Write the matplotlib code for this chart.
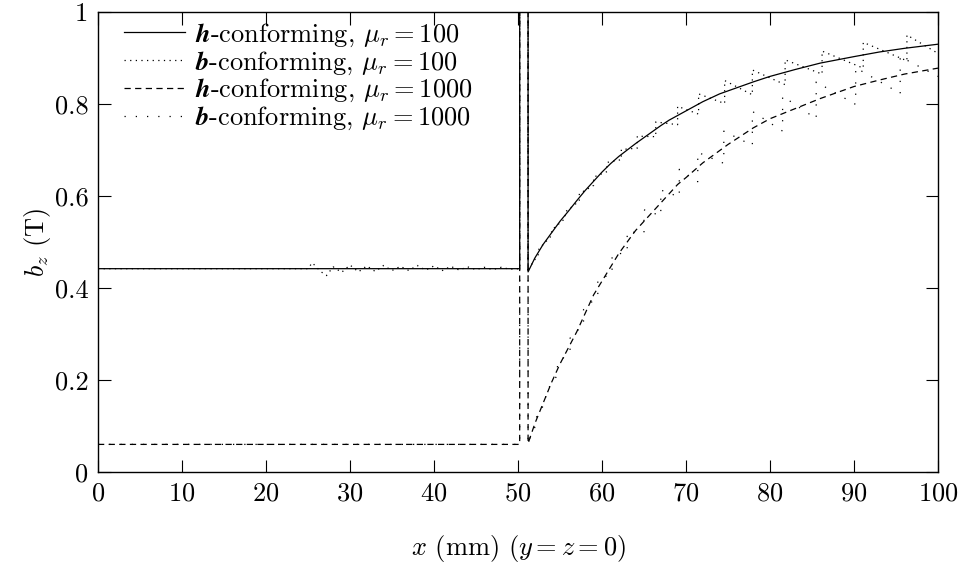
import matplotlib
matplotlib.use("Agg")
import matplotlib.pyplot as plt

plt.rcParams['font.family'] = ['cmr10', 'DejaVu Serif']
plt.rcParams['mathtext.fontset'] = 'cm'
plt.rcParams['axes.formatter.use_mathtext'] = True
plt.rcParams['font.size'] = 19

# x in mm, b_z in T
spike_x = [50.2, 50.2, 51.2, 51.2]

h100_left_y = 0.442
h100_spike_y = [0.442, 5, 5, 0.435]
h100_x = [52, 53, 54, 55, 56, 57, 58, 59, 60, 61, 62, 63, 64, 65, 66, 67, 68,
          70, 72, 74, 76, 78, 80, 83, 86, 90, 93, 96, 100]
h100_y = [0.465, 0.495, 0.52, 0.545, 0.567, 0.59, 0.612, 0.632, 0.652, 0.67,
          0.686, 0.70, 0.714, 0.727, 0.74, 0.753, 0.765, 0.785, 0.805, 0.822,
          0.835, 0.848, 0.86, 0.875, 0.889, 0.903, 0.913, 0.921, 0.93]

b100_left_x = [0, 25, 25.5, 26.5, 27.2, 28, 29, 30, 31, 32, 33, 34, 35, 36, 37,
               38, 39, 40, 41, 42, 43, 44, 45, 46, 47, 48, 49]
b100_left_y = [0.442, 0.442, 0.455, 0.436, 0.427, 0.446, 0.434, 0.45, 0.435,
               0.448, 0.436, 0.449, 0.438, 0.447, 0.438, 0.449, 0.439, 0.448,
               0.438, 0.447, 0.439, 0.446, 0.44, 0.445, 0.44, 0.445, 0.441]
b100_x = [52.5, 52.5, 54, 54, 55.6, 55.6, 57.3, 57.3, 59, 59, 60.6, 60.6,
          62.3, 62.3, 64.2, 64.2, 66.4, 66.4, 69, 69, 71.5, 71.5, 74.6, 74.6,
          77.9, 77.9, 81.8, 81.8, 86.2, 86.2, 91.1, 91.1, 96.3, 96.3, 100]
b100_y = [0.475, 0.485, 0.514, 0.526, 0.551, 0.565, 0.589, 0.605, 0.623,
          0.641, 0.653, 0.673, 0.679, 0.701, 0.704, 0.73, 0.729, 0.761, 0.755,
          0.795, 0.778, 0.822, 0.801, 0.851, 0.82, 0.874, 0.842, 0.896, 0.865,
          0.915, 0.878, 0.934, 0.894, 0.95, 0.91]

h1000_left_y = 0.06
h1000_spike_y = [0.06, 5, 5, 0.062]
h1000_x = [52, 53, 54, 55, 56, 57, 58, 59, 60, 61, 62, 63, 64, 65, 66, 67, 68,
           69, 70, 72, 75, 78, 80, 83, 86, 90, 93, 96, 100]
h1000_y = [0.105, 0.15, 0.195, 0.235, 0.27, 0.305, 0.345, 0.385, 0.415, 0.445,
           0.475, 0.50, 0.525, 0.545, 0.565, 0.585, 0.605, 0.625, 0.64, 0.672,
           0.712, 0.748, 0.768, 0.79, 0.812, 0.838, 0.852, 0.865, 0.878]

b1000_x = [52, 52, 53.3, 53.3, 54.7, 54.7, 56.2, 56.2, 57.8, 57.8, 59.5, 59.5,
           61.2, 61.2, 63, 63, 65, 65, 67, 67, 69.2, 69.2, 71.4, 71.4, 74.5,
           74.5, 77.9, 77.9, 81.5, 81.5, 85.5, 85.5, 90.2, 90.2, 95.5, 95.5, 100]
b1000_y = [0.097, 0.113, 0.153, 0.173, 0.211, 0.235, 0.263, 0.291, 0.321,
           0.353, 0.382, 0.418, 0.431, 0.471, 0.478, 0.522, 0.52, 0.57, 0.557,
           0.613, 0.598, 0.658, 0.631, 0.695, 0.671, 0.741, 0.71, 0.784, 0.741,
           0.817, 0.768, 0.848, 0.799, 0.879, 0.823, 0.903, 0.86]

labels = [r'$\mathbfit{h}$-conforming, $\mu_r = 100$',
          r'$\mathbfit{b}$-conforming, $\mu_r = 100$',
          r'$\mathbfit{h}$-conforming, $\mu_r = 1000$',
          r'$\mathbfit{b}$-conforming, $\mu_r = 1000$']
xticks = [0, 10, 20, 30, 40, 50, 60, 70, 80, 90, 100]
yticks = [0, 0.2, 0.4, 0.6, 0.8, 1]
ytick_labels = ['0', '0.2', '0.4', '0.6', '0.8', '1']

fig = plt.figure(figsize=(9.59, 5.77), dpi=100)
ax = fig.add_axes([98 / 959, 105 / 577, 840 / 959, 460 / 577])

lw = 0.9
ax.plot([0] + spike_x + h100_x, [h100_left_y] + h100_spike_y + h100_y,
        color='k', lw=lw, ls='-', label=labels[0])
ax.plot(b100_left_x + spike_x + [51.2] + b100_x,
        b100_left_y + h100_spike_y + [0.44] + b100_y,
        color='k', lw=lw, ls=(0, (1, 3.5)), label=labels[1])
ax.plot([0] + spike_x + h1000_x, [h1000_left_y] + h1000_spike_y + h1000_y,
        color='k', lw=lw, ls=(0, (5, 3.5)), label=labels[2])
ax.plot([0] + spike_x + [51.2] + b1000_x,
        [h1000_left_y] + h1000_spike_y + [0.065] + b1000_y,
        color='k', lw=lw, ls=(0, (1, 8)), label=labels[3])

ax.set_xlim(0, 100)
ax.set_ylim(0, 1)
ax.set_xticks(xticks)
ax.set_yticks(yticks)
ax.set_yticklabels(ytick_labels)
ax.tick_params(direction='in', length=9, width=0.8, top=True, right=True,
               pad=7)
for s in ax.spines.values():
    s.set_linewidth(1.0)

ax.set_xlabel(r'$x$ (mm) ($y = z = 0$)', labelpad=20)
ax.set_ylabel(r'$b_z$ (T)', labelpad=1)

leg = ax.legend(loc='upper left', frameon=False, handlelength=2.3,
                handletextpad=0.4, labelspacing=0.02, borderaxespad=0.2,
                borderpad=0.15, bbox_to_anchor=(0.02, 1.0))

fig.savefig('out.png', dpi=100)
